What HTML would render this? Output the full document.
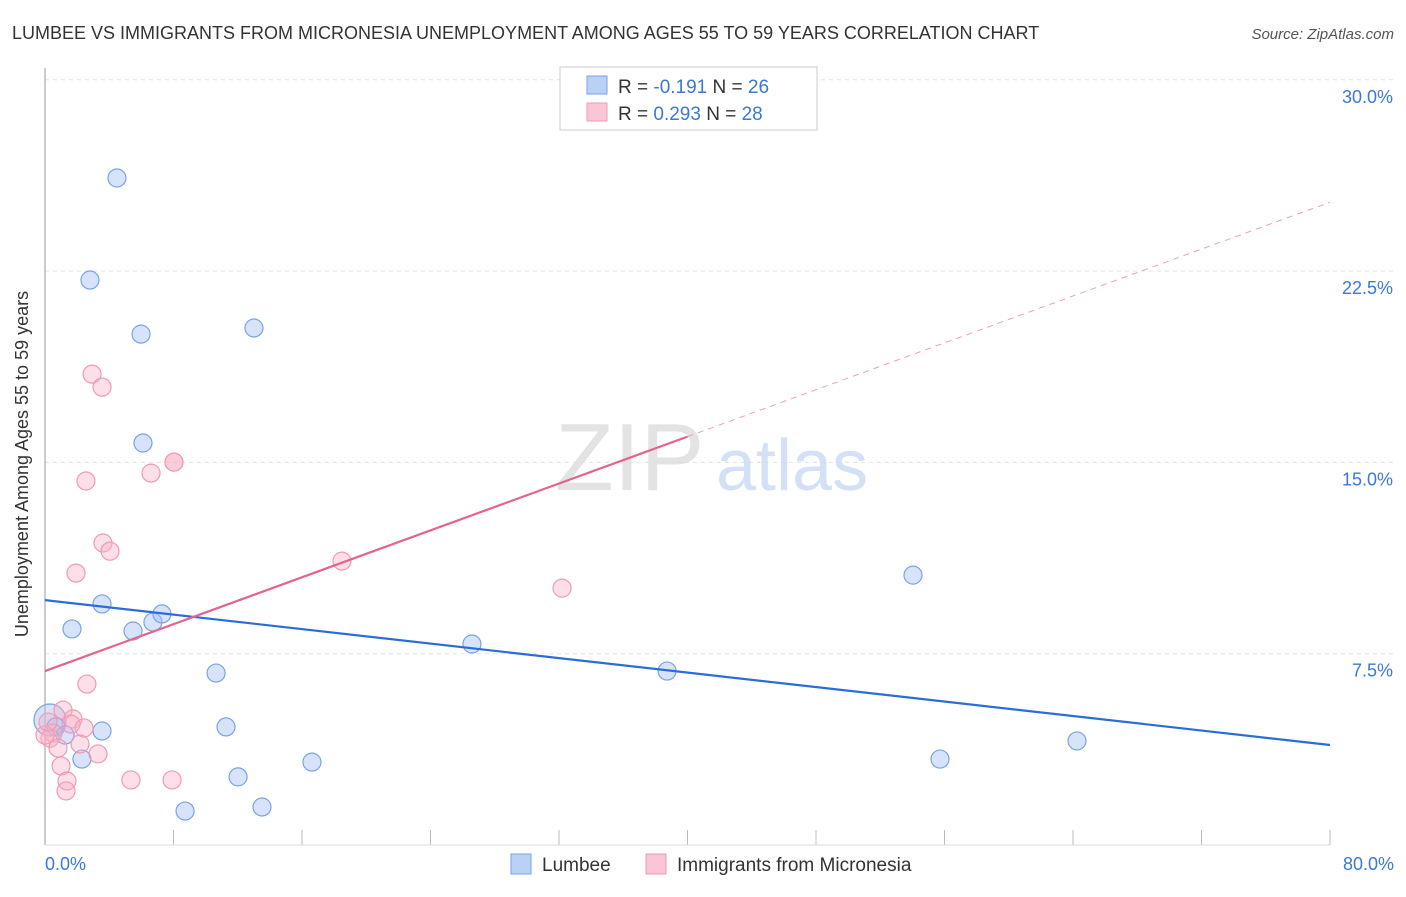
<!DOCTYPE html>
<html><head><meta charset="utf-8"><style>
body{margin:0;background:#fff;font-family:"Liberation Sans",sans-serif}
svg text{font-family:"Liberation Sans",sans-serif}
</style></head><body>
<svg width="1406" height="892" viewBox="0 0 1406 892">
<text x="12" y="39" font-size="18" fill="#333">LUMBEE VS IMMIGRANTS FROM MICRONESIA UNEMPLOYMENT AMONG AGES 55 TO 59 YEARS CORRELATION CHART</text>
<text x="1394" y="39" font-size="15" fill="#555" font-style="italic" text-anchor="end">Source: ZipAtlas.com</text>
<g id="grid"></g>
<g>
<text x="555" y="490" font-size="96" fill="#ddd" font-family="Liberation Serif" opacity="0.8">ZIP</text>
<text x="716" y="490" font-size="72" fill="#c9d9f3" opacity="0.8">atlas</text>
</g>
<line x1="45" y1="68" x2="45" y2="845" stroke="#bbb" stroke-width="1.5"/>
<line x1="45" y1="845" x2="1330" y2="845" stroke="#ddd"/>
<text x="20" y="456" font-size="18" fill="#333" transform="rotate(-90 28 456)" text-anchor="middle">Unemployment Among Ages 55 to 59 years</text>
<g id="pts"></g>
<g id="lines"></g>
<g>
<rect x="560" y="67" width="257" height="63" fill="#fff" stroke="#ccc"/>
<rect x="587" y="76" width="20" height="18" fill="#b8d1f5" stroke="#7aa3e5"/>
<text x="618" y="93" font-size="19" fill="#333">R = <tspan fill="#3b78d8">-0.191</tspan>   N = <tspan fill="#3b78d8">26</tspan></text>
<rect x="587" y="103" width="20" height="18" fill="#fac6d6" stroke="#f09ab4"/>
<text x="618" y="120" font-size="19" fill="#333">R =  <tspan fill="#3b78d8">0.293</tspan>   N = <tspan fill="#3b78d8">28</tspan></text>
</g>
<g>
<rect x="511" y="854" width="20" height="20" fill="#b8d1f5" stroke="#7aa3e5"/>
<text x="542" y="871" font-size="19" fill="#333">Lumbee</text>
<rect x="646" y="854" width="20" height="20" fill="#fac6d6" stroke="#f09ab4"/>
<text x="677" y="871" font-size="19" fill="#333">Immigrants from Micronesia</text>
</g>
</svg>
<script>
const yTicks=[0,7.5,15,22.5,30];
const xTicks=[0,8,16,24,32,40,48,56,64,72,80];
const blueX=[4.48,2.80,5.98,13.01,6.10,54.04,3.55,1.68,5.48,6.72,7.28,26.58,38.73,10.65,11.27,3.55,0.31,0.68,1.25,2.30,16.62,12.02,13.51,8.72,55.72,64.25];
const blueY=[26.15,22.15,20.03,20.27,15.76,10.58,9.45,8.47,8.39,8.74,9.06,7.88,6.82,6.74,4.63,4.47,4.90,4.63,4.31,3.37,3.25,2.67,1.49,1.33,3.37,4.08];
const pinkX=[2.93,3.55,2.55,6.60,8.03,8.03,3.61,4.05,1.93,18.49,32.19,2.61,1.12,1.74,1.62,2.43,0.50,0.31,2.18,0.81,3.30,1.00,1.37,1.31,5.35,7.91,0.0,0.19];
const pinkY=[18.46,17.95,14.27,14.58,15.01,15.01,11.84,11.52,10.66,11.13,10.07,6.31,5.29,4.94,4.74,4.59,4.39,4.19,3.96,3.80,3.57,3.10,2.51,2.12,2.55,2.55,4.31,4.82];
const blueLine=[9.60,3.92];
const pinkLine=[6.82,25.2];
const NS="http://www.w3.org/2000/svg";
const sx=v=>45+v/80*1285, sy=v=>845-v/7.5*191.3;
function mk(t,a,p){const e=document.createElementNS(NS,t);for(const k in a)e.setAttribute(k,a[k]);p.appendChild(e);return e;}
const grid=document.getElementById('grid');
yTicks.forEach(v=>{
 if(v>0){const l=mk('line',{x1:45,x2:1394,y1:sy(v),y2:sy(v),stroke:'#e3e3e3','stroke-dasharray':'4,4'},grid);
 
 
 const t=mk('text',{x:1393,y:sy(v)+23,'font-size':18,fill:'#3b78d8','text-anchor':'end'},grid);t.textContent=v.toFixed(1)+'%';
 
 }
});
xTicks.forEach(v=>{
 const l=mk('line',{x1:sx(v),x2:sx(v),y1:830,y2:845,stroke:'#bbb'},grid);
 
 
});
[[0,'start',45],[80,'end',1394]].forEach(([v,a,x])=>{
 const t=mk('text',{x:x,y:870,'font-size':18,fill:'#3b78d8','text-anchor':a},grid);t.textContent=v.toFixed(1)+'%';
 
 
});
const pts=document.getElementById('pts');
blueX.forEach((x,i)=>{const c=mk('circle',{cx:sx(x),cy:sy(blueY[i]),r:i==16?16:9,fill:'rgba(164,194,244,0.45)',stroke:'#7aa3e5','stroke-width':1.2},pts);
 
 });
pinkX.forEach((x,i)=>{const c=mk('circle',{cx:sx(x),cy:sy(pinkY[i]),r:9,fill:'rgba(248,176,198,0.4)',stroke:'#f09ab4','stroke-width':1.2},pts);
 
 });
const lines=document.getElementById('lines');
const bl=mk('line',{x1:sx(0),y1:sy(blueLine[0]),x2:sx(80),y2:sy(blueLine[1]),stroke:'#2a6dd9','stroke-width':2.2},lines);


const pm=(pinkLine[0]+pinkLine[1])/2;
const ps=mk('line',{x1:sx(0),y1:sy(pinkLine[0]),x2:sx(40),y2:sy(pm),stroke:'#e4648c','stroke-width':2.2},lines);


const pd=mk('line',{x1:sx(40),y1:sy(pm),x2:sx(80),y2:sy(pinkLine[1]),stroke:'#eba0b8','stroke-width':1,'stroke-dasharray':'6,5'},lines);


</script>
</body></html>
